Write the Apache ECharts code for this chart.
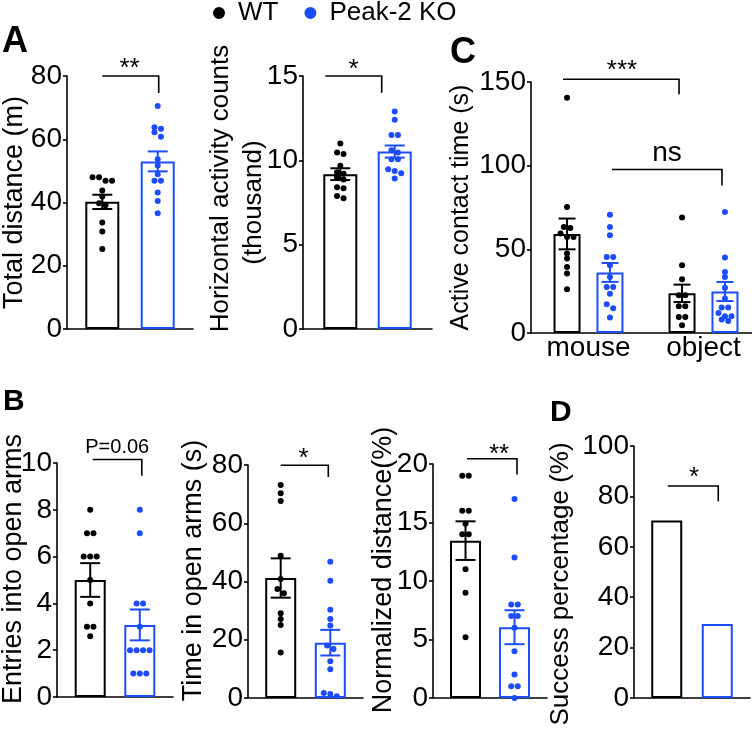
<!DOCTYPE html>
<html><head><meta charset="utf-8">
<script src="https://cdn.jsdelivr.net/npm/echarts@6/dist/echarts.min.js"></script>
<style>html,body{margin:0;padding:0;background:#fff}#c{width:752px;height:735px}</style>
</head><body><div id="c"></div>
<script>
// ---------------- DATA ----------------
const groupNames = ['WT', 'Peak-2 KO'];

// A (left): total distance (m)
const distCats = ['Total distance'];
const distWT = [48.0, 48.0, 46.9, 46.9, 43.8, 41.9, 39.8, 39.1, 33.7, 30.8, 25.3];
const distKO = [70.5, 63.8, 63.3, 62.2, 60.8, 53.7, 51.7, 48.9, 46.9, 46.9, 43.2, 40.5, 36.6];
const distMean = [40.2, 53.0];
const distSem = [2.25, 3.15];
const distBracket = [80, 74.6];

// A (right): horizontal activity counts (thousand)
const horizCats = ['Horizontal activity'];
const horizWT = [11.0, 10.47, 10.37, 9.68, 9.3, 9.2, 8.99, 8.87, 8.4, 8.35, 7.88, 7.75];
const horizKO = [12.9, 12.4, 11.5, 11.5, 10.6, 10.47, 10.06, 10.06, 9.47, 9.37, 9.23, 8.93];
const horizMean = [9.18, 10.52];
const horizSem = [0.35, 0.36];
const horizBracket = [15, 14.0];

// C: active contact time (s)
const contactCats = ['mouse', 'object'];
const contactMouseWT = [140.6, 75.3, 63.4, 62.8, 59.4, 57.4, 57.4, 47.5, 44.5, 39.5, 35.5, 26.1];
const contactMouseKO = [70.7, 63.4, 58.4, 45.4, 45.4, 40.5, 33.5, 27.5, 27.5, 23.5, 17.2, 14.8, 9.2];
const contactObjectWT = [69.0, 40.5, 32.1, 22.5, 22.5, 16.0, 16.0, 9.6, 9.6, 4.6];
const contactObjectKO = [72.3, 45.1, 36.5, 33.5, 27.1, 20.6, 15.2, 15.2, 12.0, 10.0, 10.0, 8.0, 7.2];
const contactMeanWT = [59.2, 23.7];
const contactSemWT = [9.2, 5.2];
const contactMeanKO = [36.2, 24.8];
const contactSemKO = [5.65, 5.7];
const contactBracketWT = [151.6, 142.7];
const contactBracketKO = [97.7, 88.2];

// B (left): entries into open arms
const entriesCats = ['Entries'];
const entriesWT = [8, 7, 7, 6, 6, 6, 5, 4, 3, 3, 2.6];
const entriesKO = [8, 7, 4, 4, 3, 2, 2, 2, 2, 1, 1, 1];
const entriesMean = [5.0, 3.08];
const entriesSem = [0.72, 0.66];
const entriesBracket = [10.15, 9.46];

// B (middle): time in open arms (s)
const timeCats = ['Time'];
const timeWT = [73.1, 70.3, 67.6, 48.8, 40.9, 37.4, 36.0, 29.1, 27.1, 25.1, 15.6];
const timeKO = [46.8, 40.3, 30.3, 27.1, 24.9, 18.0, 16.8, 12.6, 9.9, 1.7, 1.4, 0.6];
const timeMean = [41.2, 19.0];
const timeSem = [6.75, 4.4];
const timeBracket = [79.9, 75.9];

// B (right): normalized distance (%)
const normCats = ['Normalized distance'];
const normWT = [19, 19, 16, 16, 14.9, 14, 14, 11, 9, 5.2];
const normKO = [17, 12, 8, 8, 7, 7, 6, 4, 2, 1, 1, 0];
const normMean = [13.45, 6.05];
const normSem = [1.65, 1.45];
const normBracket = [20.45, 19.1];

// D: success percentage (%)
const successCats = ['Success'];
const successPct = [70.4, 29.4];
const successBracket = [84.1, 78.1];

// ---------------- STYLE / LAYOUT ----------------
const BLUE = '#1b4dff';
const COLORS = ['#000000', BLUE];
const FONT = "'Liberation Sans', Arial, Helvetica, sans-serif";
const AXW = 1.6;

const panels = [
  { grid: {left: 67, top: 76, width: 126, height: 253}, yMax: 80, yInt: 20,
    yName: 'Total distance (m)', nameGap: 38.5, nameSize: 27,
    cats: distCats, barWidth: 34, barGap: 63, cap: 20,
    groups: [
      {values: [distWT], means: [distMean[0]], sems: [distSem[0]]},
      {values: [distKO], means: [distMean[1]], sems: [distSem[1]]}],
    brackets: [{from: [0, 0], to: [0, 1], y: distBracket, text: '**', size: 26, lift: 7.3, shift: [0, 1], tdx: -1}] },
  { grid: {left: 303, top: 76, width: 129, height: 253}, yMax: 15, yInt: 5,
    yName: '{a|Horizontal activity counts}\n{b|(thousand)}', nameGap: 32.5, nameSize: 26, nameLH: 33,
    rich: {a: {padding: [0, 0, 0, 28]}, b: {}},
    cats: horizCats, barWidth: 34, barGap: 60, cap: 20,
    groups: [
      {values: [horizWT], means: [horizMean[0]], sems: [horizSem[0]]},
      {values: [horizKO], means: [horizMean[1]], sems: [horizSem[1]]}],
    brackets: [{from: [0, 0], to: [0, 1], y: horizBracket, text: '*', size: 26, lift: 5.8, shift: [-15, -13], tdx: 0}] },
  { grid: {left: 531, top: 82, width: 230, height: 251}, yMax: 150, yInt: 50,
    yName: 'Active contact time (s)', nameGap: 57.5, nameSize: 25,
    cats: contactCats, catLabels: true, barWidth: 27, barGap: 59, cap: 17,
    groups: [
      {values: [contactMouseWT, contactObjectWT], means: contactMeanWT, sems: contactSemWT},
      {values: [contactMouseKO, contactObjectKO], means: contactMeanKO, sems: contactSemKO}],
    brackets: [
      {from: [0, 0], to: [1, 0], y: contactBracketWT, text: '***', size: 26, lift: 8.8, shift: [-4, -3], tdx: 1},
      {from: [0, 1], to: [1, 1], y: contactBracketKO, text: 'ns', size: 28, lift: 15.9, shift: [2, -3], tdx: 0}] },
  { grid: {left: 57, top: 463, width: 116, height: 234}, yMax: 10, yInt: 2,
    yName: 'Entries into open arms', nameGap: 30, nameSize: 27, namePad: [0, 0, 0, 22],
    cats: entriesCats, barWidth: 31, barGap: 60, cap: 20,
    groups: [
      {values: [entriesWT], means: [entriesMean[0]], sems: [entriesSem[0]]},
      {values: [entriesKO], means: [entriesMean[1]], sems: [entriesSem[1]]}],
    brackets: [{from: [0, 0], to: [0, 1], y: entriesBracket, text: 'P=0.06', size: 20, lift: 12, shift: [2.5, 2], tdx: 0}] },
  { grid: {left: 248, top: 465, width: 115, height: 233}, yMax: 80, yInt: 20,
    yName: 'Time in open arms (s)', nameGap: 40.5, nameSize: 27, namePad: [0, 0, 0, 22],
    cats: timeCats, barWidth: 31, barGap: 60, cap: 20,
    groups: [
      {values: [timeWT], means: [timeMean[0]], sems: [timeSem[0]]},
      {values: [timeKO], means: [timeMean[1]], sems: [timeSem[1]]}],
    brackets: [{from: [0, 0], to: [0, 1], y: timeBracket, text: '*', size: 26, lift: 6.8, shift: [0, -2], tdx: -1}] },
  { grid: {left: 433, top: 464, width: 114, height: 234}, yMax: 20, yInt: 5,
    yName: 'Normalized distance(%)', nameGap: 35.5, nameSize: 27, namePad: [0, 0, 0, 22],
    cats: normCats, barWidth: 31, barGap: 58, cap: 20,
    groups: [
      {values: [normWT], means: [normMean[0]], sems: [normSem[0]]},
      {values: [normKO], means: [normMean[1]], sems: [normSem[1]]}],
    brackets: [{from: [0, 0], to: [0, 1], y: normBracket, text: '**', size: 26, lift: 3.8, shift: [1.5, 2.5], tdx: 7}] },
  { grid: {left: 634, top: 446, width: 116, height: 252}, yMax: 100, yInt: 20,
    yName: 'Success percentage (%)', nameGap: 60, nameSize: 26, namePad: [0, 24, 0, 0],
    cats: successCats, barWidth: 31, barGap: 63, cap: 20,
    groups: [
      {values: null, means: [successPct[0]], sems: null},
      {values: null, means: [successPct[1]], sems: null}],
    brackets: [{from: [0, 0], to: [0, 1], y: successBracket, text: '*', size: 26, lift: 7.8, shift: [1, 1], tdx: 1}] }
];

// beeswarm-style horizontal spreading of points with (nearly) equal values
function swarm(values, pxPerUnit, step, thr) {
  const order = values.map((v, i) => i).sort((a, b) => values[b] - values[a]);
  const dx = new Array(values.length).fill(0);
  let i = 0;
  while (i < order.length) {
    let j = i;
    while (j + 1 < order.length && (values[order[i]] - values[order[j + 1]]) * pxPerUnit < thr) j++;
    const k = j - i + 1;
    for (let m = 0; m < k; m++) dx[order[i + m]] = (m - (k - 1) / 2) * step;
    i = j + 1;
  }
  return dx;
}

const grids = [], xAxes = [], yAxes = [], series = [];
panels.forEach((p, pi) => {
  grids.push(Object.assign({containLabel: false, outerBoundsMode: 'none'}, p.grid));
  xAxes.push({
    gridIndex: pi, type: 'category', data: p.cats,
    axisLine: {show: true, lineStyle: {color: '#000', width: AXW}},
    axisTick: {show: false},
    axisLabel: p.catLabels ? {show: true, fontSize: 28, color: '#000', fontFamily: FONT, margin: 1} : {show: false},
    splitLine: {show: false}
  });
  const nameStyle = {fontSize: p.nameSize, color: '#000', fontFamily: FONT};
  if (p.nameLH) nameStyle.lineHeight = p.nameLH;
  if (p.namePad) nameStyle.padding = p.namePad;
  if (p.rich) {
    nameStyle.rich = {};
    Object.keys(p.rich).forEach(k => {
      nameStyle.rich[k] = Object.assign({fontSize: p.nameSize, lineHeight: p.nameLH, fontFamily: FONT, color: '#000'}, p.rich[k]);
    });
  }
  yAxes.push({
    gridIndex: pi, type: 'value', min: 0, max: p.yMax, interval: p.yInt,
    name: p.yName, nameLocation: 'middle', nameGap: p.nameGap, nameTextStyle: nameStyle,
    nameMoveOverlap: false,
    axisLine: {show: true, lineStyle: {color: '#000', width: AXW}},
    axisTick: {show: true, inside: false, length: 4, lineStyle: {color: '#000', width: AXW}},
    axisLabel: {fontSize: 28, color: '#000', fontFamily: FONT, margin: 5},
    splitLine: {show: false}
  });
  const step = p.barWidth * (1 + p.barGap / 100);
  const off = s => (s - 0.5) * step;
  const pxPerUnit = p.grid.height / p.yMax;

  p.groups.forEach((g, s) => {
    const color = COLORS[s];
    series.push({
      type: 'bar', name: groupNames[s], xAxisIndex: pi, yAxisIndex: pi,
      data: g.means, barWidth: p.barWidth, barGap: p.barGap + '%', z: 2,
      itemStyle: {color: '#fff', borderColor: color, borderWidth: 2},
      emphasis: {disabled: true}
    });
    if (g.values) {
      const pts = [];
      g.values.forEach((vals, c) => {
        const dx = swarm(vals, pxPerUnit, 6.5, 5);
        vals.forEach((v, k) => pts.push({value: [c, v], symbolOffset: [off(s) + dx[k], 0]}));
      });
      series.push({
        type: 'scatter', name: groupNames[s], xAxisIndex: pi, yAxisIndex: pi,
        data: pts, symbol: 'circle', symbolSize: 6, z: 3,
        itemStyle: {color: color, opacity: 1}, emphasis: {disabled: true}
      });
    }
    if (g.sems) {
      const cap = p.cap;
      series.push({
        type: 'custom', xAxisIndex: pi, yAxisIndex: pi, z: 4,
        data: g.means.map((m, c) => [c, m, g.sems[c]]),
        renderItem: (params, api) => {
          const c = api.value(0), m = api.value(1), e = api.value(2);
          const pt = api.coord([c, m + e]), pb = api.coord([c, m - e]);
          const x = pt[0] + off(s);
          const st = {stroke: color, lineWidth: 2};
          return {type: 'group', children: [
            {type: 'line', shape: {x1: x, y1: pt[1], x2: x, y2: pb[1]}, style: st},
            {type: 'line', shape: {x1: x - cap / 2, y1: pt[1], x2: x + cap / 2, y2: pt[1]}, style: st},
            {type: 'line', shape: {x1: x - cap / 2, y1: pb[1], x2: x + cap / 2, y2: pb[1]}, style: st}
          ]};
        }
      });
    }
  });

  series.push({
    type: 'custom', xAxisIndex: pi, yAxisIndex: pi, z: 5,
    data: p.brackets.map(b => [b.from[0], b.to[0], b.y[0], b.y[1]]),
    renderItem: (params, api) => {
      const b = p.brackets[params.dataIndex];
      const a = api.coord([api.value(0), api.value(2)]);
      const z = api.coord([api.value(1), api.value(2)]);
      const d = api.coord([api.value(1), api.value(3)]);
      const x1 = a[0] + off(b.from[1]) + b.shift[0];
      const x2 = z[0] + off(b.to[1]) + b.shift[1];
      return {type: 'group', children: [
        {type: 'polyline', shape: {points: [[x1, a[1]], [x2, a[1]], [x2, d[1]]]},
         style: {stroke: '#000', lineWidth: AXW, fill: null}},
        {type: 'text', style: {text: b.text, x: (x1 + x2) / 2 + (b.tdx || 0), y: a[1] - b.lift,
          align: 'center', verticalAlign: 'middle', font: b.size + 'px ' + FONT, fill: '#000'}}
      ]};
    }
  });
});

const letters = [
  {t: 'A', x: 2, y: 42.5, s: 36},
  {t: 'B', x: 3, y: 402, s: 30},
  {t: 'C', x: 450, y: 53.5, s: 36},
  {t: 'D', x: 550, y: 413, s: 30}
];

const option = {
  animation: false,
  backgroundColor: '#fff',
  textStyle: {fontFamily: FONT},
  legend: {
    left: 213, top: 0, padding: 0, itemWidth: 28, itemHeight: 10, itemGap: 26, selectedMode: false,
    textStyle: {fontSize: 26, color: '#000', fontFamily: FONT},
    data: [
      {name: groupNames[0], icon: 'circle', itemStyle: {color: COLORS[0]}},
      {name: groupNames[1], icon: 'circle', itemStyle: {color: COLORS[1]}}]
  },
  graphic: letters.map(l => ({type: 'text', x: l.x, y: l.y,
    style: {text: l.t, font: 'bold ' + l.s + 'px ' + FONT, fill: '#000', verticalAlign: 'middle'}})),
  grid: grids, xAxis: xAxes, yAxis: yAxes, series: series
};

const chart = echarts.init(document.getElementById('c'), null, {renderer: 'canvas', width: 752, height: 735});
chart.setOption(option);
</script>
</body></html>
